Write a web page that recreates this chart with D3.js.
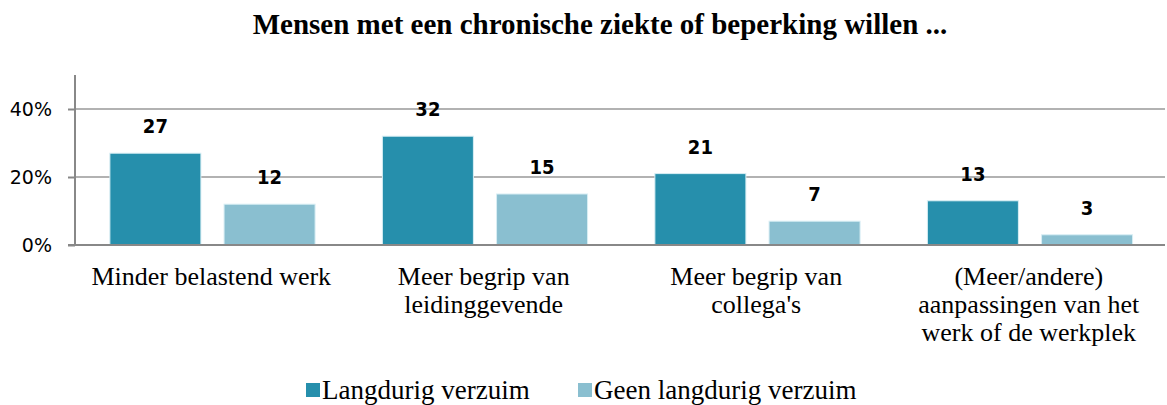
<!DOCTYPE html>
<html>
<head>
<meta charset="utf-8">
<script src="https://cdn.jsdelivr.net/npm/d3@7"></script>
<style>
  body { margin: 0; background: #fff; }
  .grid line { stroke: #999; stroke-width: 1.5; }
  .axis path, .axis line { stroke: #888; stroke-width: 2; }
  .tick-label { font-family: "DejaVu Sans", sans-serif; font-size: 19px; fill: #000; }
  .value { font-family: "DejaVu Sans Condensed", "DejaVu Sans", sans-serif; font-stretch: condensed; font-size: 20px; font-weight: bold; fill: #000; }
  .cat { font-family: "Liberation Serif", "Times New Roman", serif; font-size: 26px; fill: #000; }
  .title { font-family: "Liberation Serif", "Times New Roman", serif; font-size: 29px; font-weight: bold; }
  .legend { font-family: "Liberation Serif", "Times New Roman", serif; font-size: 27px; }
</style>
</head>
<body>
<svg class="chart"></svg>
<script>

//
// data
//

var categories = [
    ["Minder belastend werk"],
    ["Meer begrip van", "leidinggevende"],
    ["Meer begrip van", "collega's"],
    ["(Meer/andere)", "aanpassingen van het", "werk of de werkplek"]
];
var series_names = ["Langdurig verzuim", "Geen langdurig verzuim"];
var langdurig = [27, 32, 21, 13];
var geen_langdurig = [12, 15, 7, 3];
var y_ticks = [0, 20, 40];

var colors = ["#268FAC", "#8ABFD0"];

var width = 1167, height = 405;
var plot = { left: 75, right: 1165, top: 75, bottom: 245 };

var svg = d3.select(".chart")
    .attr("width", width)
    .attr("height", height);

// scales
var x = d3.scaleBand()
    .domain(d3.range(categories.length))
    .range([plot.left, plot.right]);

var y = d3.scaleLinear()
    .domain([0, 50])
    .range([plot.bottom, plot.top]);

var bar_w = x.bandwidth() * 0.334;
var bar_off = [x.bandwidth() * 0.128, x.bandwidth() * 0.128 + bar_w + x.bandwidth() * 0.085];

//
// grid + axes
//

svg.append("g")
    .attr("class", "grid")
    .selectAll("line")
    .data(y_ticks.filter(function (d) { return d > 0; }))
    .enter().append("line")
    .attr("x1", plot.left)
    .attr("x2", plot.right)
    .attr("y1", function (d) { return y(d); })
    .attr("y2", function (d) { return y(d); });

var yaxis = svg.append("g")
    .attr("class", "axis")
    .attr("transform", "translate(" + plot.left + ",0)")
    .call(d3.axisLeft(y).tickValues(y_ticks).tickSize(7).tickFormat(""));
yaxis.select(".domain").attr("d", "M0," + plot.top + "V" + plot.bottom);

svg.selectAll("text.tick-label")
    .data(y_ticks)
    .enter().append("text")
    .attr("class", "tick-label")
    .attr("x", 52)
    .attr("y", function (d) { return y(d) + 7; })
    .attr("text-anchor", "end")
    .text(function (d) { return d + "%"; });

//
// bars
//

var all_series = [langdurig, geen_langdurig];

all_series.forEach(function (values, s) {
    var g = svg.append("g");
    g.selectAll("rect")
        .data(values)
        .enter().append("rect")
        .attr("x", function (d, i) { return x(i) + bar_off[s]; })
        .attr("y", function (d) { return y(d); })
        .attr("width", bar_w)
        .attr("height", function (d) { return y(0) - y(d); })
        .attr("fill", colors[s])
        .attr("stroke", "#d8eef4")
        .attr("stroke-width", 1);
    g.selectAll("text")
        .data(values)
        .enter().append("text")
        .attr("class", "value")
        .attr("x", function (d, i) { return x(i) + bar_off[s] + bar_w / 2; })
        .attr("y", function (d) { return y(d) - 20; })
        .attr("text-anchor", "middle")
        .text(function (d) { return d; });
});

// baseline on top of bars
svg.append("line")
    .attr("x1", plot.left - 7)
    .attr("x2", plot.right)
    .attr("y1", plot.bottom)
    .attr("y2", plot.bottom)
    .attr("stroke", "#888")
    .attr("stroke-width", 2);

//
// category labels
//

svg.selectAll("text.cat")
    .data(categories)
    .enter().append("text")
    .attr("class", "cat")
    .attr("text-anchor", "middle")
    .attr("transform", function (d, i) {
        return "translate(" + (x(i) + x.bandwidth() / 2) + "," + 285 + ")";
    })
    .selectAll("tspan")
    .data(function (d) { return d; })
    .enter().append("tspan")
    .attr("x", 0)
    .attr("y", function (d, i) { return i * 28; })
    .text(function (d) { return d; });

//
// title
//

svg.append("text")
    .attr("class", "title")
    .attr("x", 600)
    .attr("y", 34)
    .attr("text-anchor", "middle")
    .text("Mensen met een chronische ziekte of beperking willen ...");

//
// legend
//

var legend_x = [306, 578];
var legend = svg.selectAll("g.legend-item")
    .data(series_names)
    .enter().append("g")
    .attr("transform", function (d, i) {
        return "translate(" + legend_x[i] + ",383)";
    });
legend.append("rect")
    .attr("width", 14)
    .attr("height", 14)
    .attr("fill", function (d, i) { return colors[i]; });
legend.append("text")
    .attr("class", "legend")
    .attr("x", 16)
    .attr("y", 16)
    .text(function (d) { return d; });

</script>
</body>
</html>
